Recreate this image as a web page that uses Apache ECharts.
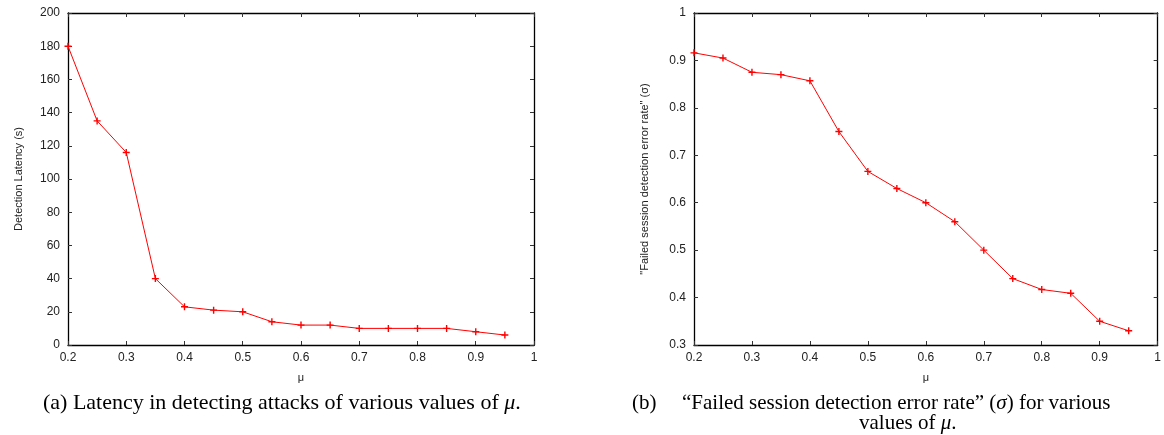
<!DOCTYPE html>
<html lang="en">
    <head>
        <meta charset="UTF-8" />
        <title>Latency and error rate vs mu</title>
        <script src="https://cdn.jsdelivr.net/npm/echarts@6/dist/echarts.min.js"></script>
        <style>
            html, body { margin: 0; padding: 0; background: #fff; }
            #chart { width: 1164px; height: 435px; }
        </style>
    </head>
    <body>
        <div id="chart"></div>
        <script>
            // values of mu on the x axis
            var mu = [0.2, 0.25, 0.3, 0.35, 0.4, 0.45, 0.5, 0.55, 0.6, 0.65, 0.7, 0.75, 0.8, 0.85, 0.9, 0.95];
            // (a) detection latency in seconds
            var latency = [180, 135, 116, 40, 23, 21, 20, 14, 12, 12, 10, 10, 10, 10, 8, 6];
            // (b) failed session detection error rate
            var errorRate = [0.916, 0.905, 0.875, 0.87, 0.857, 0.75, 0.666, 0.63, 0.6, 0.56, 0.5, 0.44, 0.417, 0.409, 0.35, 0.33];

            var chart = echarts.init(document.getElementById('chart'));

            var plus = 'path://M4,0H6V4H10V6H6V10H4V6H0V4H4Z';
            var sans = 'Liberation Sans, Arial, sans-serif';
            var serif = 'Liberation Serif, Times New Roman, serif';

            function fmt(v) {
                return String(+v.toFixed(1));
            }

            function pairs(ys) {
                return mu.map(function (x, i) { return [x, ys[i]]; });
            }

            // main axis (with labels) or mirrored axis (ticks only)
            function xAxis(grid, mirror) {
                return {
                    type: 'value', gridIndex: grid, position: mirror ? 'top' : 'bottom',
                    min: 0.2, max: 1, interval: 0.1,
                    name: mirror ? '' : 'μ', nameLocation: 'middle', nameGap: 27,
                    nameTextStyle: { fontFamily: sans, fontSize: 11, color: '#222' },
                    axisLine: { show: true, onZero: false, lineStyle: { color: '#000', width: 1.3 } },
                    axisTick: { show: true, inside: true, length: 4, lineStyle: { color: '#333' } },
                    axisLabel: { show: !mirror, formatter: fmt, fontFamily: sans, fontSize: 12, color: '#222', margin: 7 },
                    splitLine: { show: false }
                };
            }

            function yAxis(grid, mirror, min, max, step, name, gap) {
                return {
                    type: 'value', gridIndex: grid, position: mirror ? 'right' : 'left',
                    min: min, max: max, interval: step,
                    name: mirror ? '' : name, nameLocation: 'middle', nameGap: gap, nameRotate: 90,
                    nameTextStyle: { fontFamily: sans, fontSize: 11, color: '#222' },
                    axisLine: { show: true, onZero: false, lineStyle: { color: '#000', width: 1.3 } },
                    axisTick: { show: true, inside: true, length: 4, lineStyle: { color: '#333' } },
                    axisLabel: { show: !mirror, formatter: fmt, fontFamily: sans, fontSize: 12, color: '#222', margin: 8 },
                    splitLine: { show: false }
                };
            }

            function line(xi, yi, ys) {
                return {
                    type: 'line', xAxisIndex: xi, yAxisIndex: yi,
                    data: pairs(ys),
                    symbol: plus, symbolSize: 7,
                    showAllSymbol: true,
                    lineStyle: { color: '#ff0000', width: 1 },
                    itemStyle: { color: '#ff0000' },
                    animation: false
                };
            }

            function caption(text, x, y, size) {
                return {
                    type: 'text', left: x, top: y,
                    style: {
                        text: text,
                        font: size + 'px ' + serif, fill: '#000',
                        rich: { i: { fontStyle: 'italic', fontFamily: serif, fontSize: size } }
                    }
                };
            }

            var option = {
                animation: false,
                grid: [
                    { left: 68, top: 13, width: 466, height: 332 },
                    { left: 694, top: 13, width: 466, height: 332 }
                ],
                xAxis: [xAxis(0, false), xAxis(0, true), xAxis(1, false), xAxis(1, true)],
                yAxis: [
                    yAxis(0, false, 0, 200, 20, 'Detection Latency (s)', 44),
                    yAxis(0, true, 0, 200, 20, '', 0),
                    yAxis(1, false, 0.3, 1, 0.1, '"Failed session detection error rate" (σ)', 44),
                    yAxis(1, true, 0.3, 1, 0.1, '', 0)
                ],
                series: [line(0, 0, latency), line(2, 2, errorRate)],
                graphic: [
                    caption('(a) Latency in detecting attacks of various values of {i|μ}.', 43, 392, 22),
                    caption('(b)', 632, 393, 21),
                    caption('\u201CFailed session detection error rate\u201D ({i|σ}) for various', 682, 393, 21),
                    caption('values of {i|μ}.', 859, 413, 21)
                ]
            };

            chart.setOption(option);
        </script>
    </body>
</html>
